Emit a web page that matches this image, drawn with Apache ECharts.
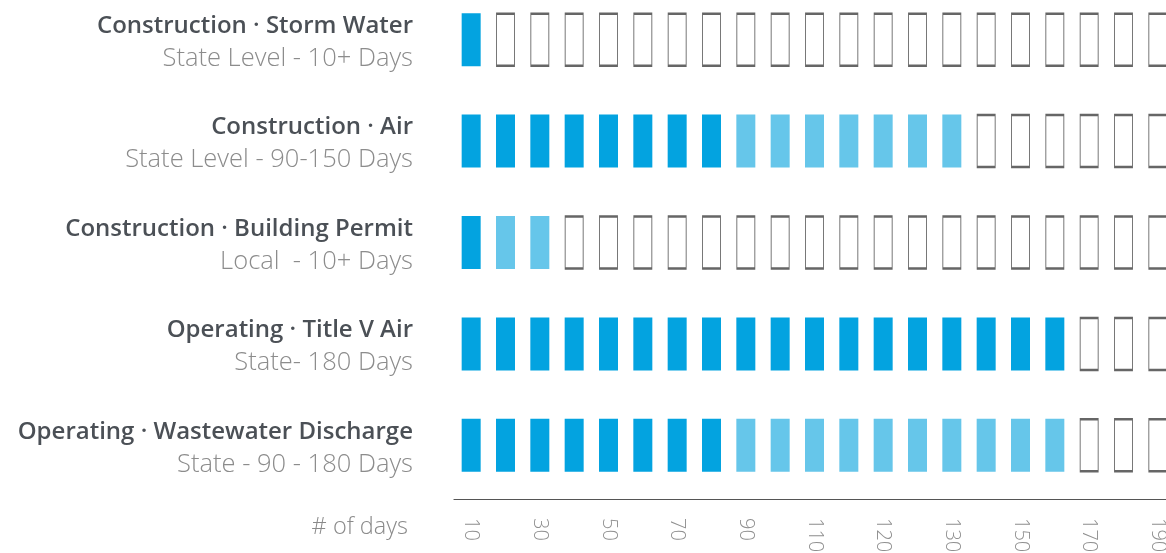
<!DOCTYPE html>
<html>
<head>
<meta charset="utf-8">
<script src="https://cdn.jsdelivr.net/npm/echarts@6/dist/echarts.min.js"></script>
<style>
  html, body { margin: 0; padding: 0; background: #fff; }
  #chart { width: 1166px; height: 553px; }
</style>
</head>
<body>
<div id="chart"></div>
<script>
// ---- data ----
const dayLabels = ['10','20','30','40','50','60','70','80','90','100','110','115','120','125','130','140','150','160','170','180','190'];
const permits = [
  'Construction · Storm Water',
  'Construction · Air',
  'Construction · Building Permit',
  'Operating · Title V Air',
  'Operating · Wastewater Discharge'
];
const jurisdictions = [
  'State Level - 10+ Days',
  'State Level - 90-150 Days',
  'Local  - 10+ Days',
  'State- 180 Days',
  'State - 90 - 180 Days'
];
const typicalCount = [1, 8, 1, 18, 8];   // dark blue cells
const rangeCount   = [0, 7, 2, 0, 10];   // light blue cells

// ---- build cells ----
const darkCells = [], lightCells = [], emptyCells = [];
permits.forEach((p, r) => {
  dayLabels.forEach((d, c) => {
    if (c < typicalCount[r]) darkCells.push([d, p]);
    else if (c < typicalCount[r] + rangeCount[r]) lightCells.push([d, p]);
    else emptyCells.push([d, p]);
  });
});

const chart = echarts.init(document.getElementById('chart'), null, { renderer: 'canvas' });
const labelFont = '"Open Sans", "Noto Sans", sans-serif';

chart.setOption({
  animation: false,
  backgroundColor: '#ffffff',
  grid: { left: 454, right: -9, top: -11, bottom: 57, containLabel: false, outerBoundsMode: 'none' },
  xAxis: {
    type: 'category',
    data: dayLabels,
    boundaryGap: true,
    offset: 3,
    axisLine: { show: true, lineStyle: { color: '#555', width: 1.2 } },
    axisTick: { show: false },
    splitLine: { show: false },
    axisLabel: {
      interval: 1,
      rotate: -90,
      margin: 19,
      fontFamily: labelFont,
      fontWeight: 300,
      fontSize: 20,
      color: '#8f8f8f'
    }
  },
  yAxis: {
    type: 'category',
    data: permits,
    inverse: true,
    axisLine: { show: false },
    axisTick: { show: false },
    splitLine: { show: false },
    axisLabel: {
      margin: 41,
      formatter: (v, i) => '{t|' + v + '}\n{s|' + jurisdictions[i] + '}',
      rich: {
        t: { fontFamily: labelFont, fontWeight: 600, fontSize: 24, color: '#4b5056', lineHeight: 35, align: 'right', padding: [8, 0, 0, 0] },
        s: { fontFamily: labelFont, fontWeight: 300, fontSize: 25.5, color: '#8c8c8c', lineHeight: 35, align: 'right', padding: [3, 0, 0, 0] }
      }
    }
  },
  graphic: [{
    type: 'text',
    x: 408, y: 527,
    style: {
      text: '# of days',
      textAlign: 'right',
      textVerticalAlign: 'middle',
      fontFamily: labelFont,
      fontWeight: 300,
      fontSize: 23.5,
      fill: '#8a8a8a'
    }
  }],
  series: [
    {
      name: 'Typical', type: 'scatter', symbol: 'rect', symbolSize: [19, 53],
      data: darkCells, itemStyle: { color: '#03a3e0', opacity: 1 }, clip: false,
      emphasis: { disabled: true }
    },
    {
      name: 'Range', type: 'scatter', symbol: 'rect', symbolSize: [19, 53],
      data: lightCells, itemStyle: { color: '#66c6ea', opacity: 1 }, clip: false,
      emphasis: { disabled: true }
    },
    {
      name: 'Remaining', type: 'scatter', symbol: 'rect', symbolSize: [18, 52],
      data: emptyCells,
      itemStyle: { color: '#ffffff', borderColor: '#666', borderWidth: 1.5, opacity: 1 },
      clip: false, emphasis: { disabled: true }
    }
  ]
});
</script>
</body>
</html>
